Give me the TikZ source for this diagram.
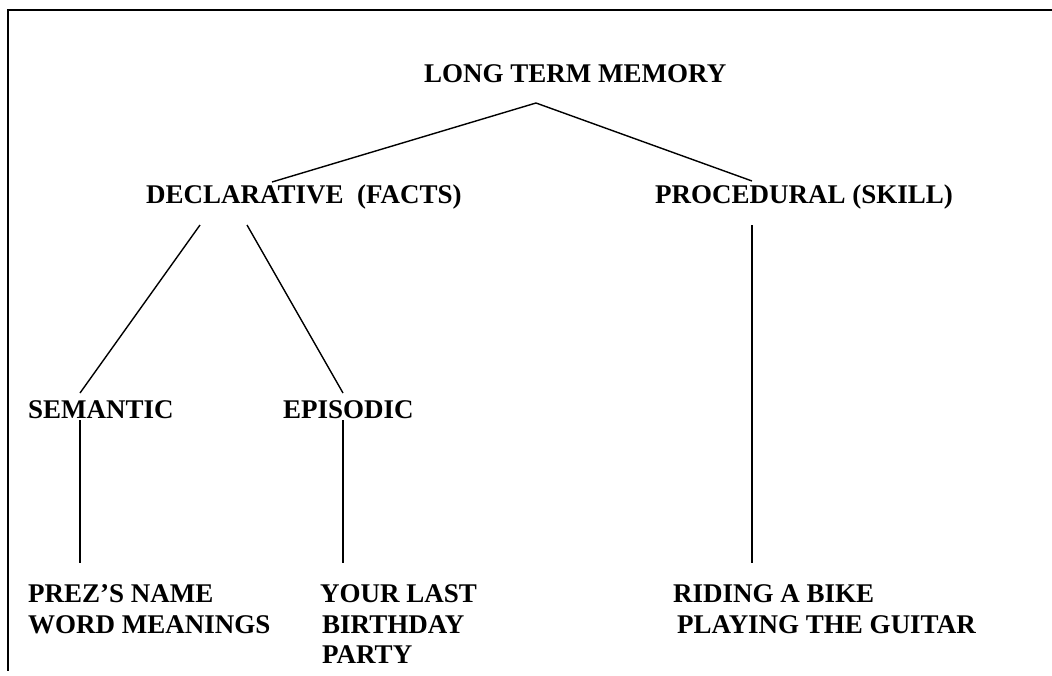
\documentclass[tikz,border=0pt]{standalone}
\usepackage{fontspec}
\setmainfont{Liberation Serif}
\begin{document}
\begin{tikzpicture}[x=1pt,y=-1pt,
  lbl/.style={anchor=base west,inner sep=0pt,font=\fontsize{27}{31}\selectfont\bfseries},
  conn/.style={line width=1.4pt},
  frame/.style={line width=2pt}]
\useasboundingbox (0,0) rectangle (1052,675);
% frame (top and left edges)
\coordinate (fTR) at (1052,10);
\coordinate (fTL) at (7.5,10);
\coordinate (fBL) at (7.5,671);
\draw[frame] (fTR) -- (fTL) -- (fBL);
% labels
\node[lbl] (ltm) at (424,82) {LONG TERM MEMORY};
\node[lbl] (decl) at (146,203) {DECLARATIVE\ \ (FACTS)};
\node[lbl] (proc) at (655,203) {PROCEDURAL (SKILL)};
\node[lbl] (sem) at (28,418) {SEMANTIC};
\node[lbl] (epi) at (283,418) {EPISODIC};
\node[lbl] (prez) at (28,602) {PREZ’S NAME};
\node[lbl] (word) at (28,633) {WORD MEANINGS};
\node[lbl] (your) at (320,602) {YOUR LAST};
\node[lbl] (birth) at (322,633) {BIRTHDAY};
\node[lbl] (party) at (322,663) {PARTY};
\node[lbl] (ride) at (673,602) {RIDING A BIKE};
\node[lbl] (play) at (677,633) {PLAYING THE GUITAR};
% connector ends
\coordinate (ltmB) at (536,103);
\coordinate (declT) at (272,182);
\coordinate (procT) at (752,181);
\coordinate (declBL) at (200,225);
\coordinate (declBR) at (247,225);
\coordinate (semT) at (80,393);
\coordinate (epiT) at (343,393);
\coordinate (semB) at (80,420);
\coordinate (epiB) at (343,420);
\coordinate (semE) at (80,563);
\coordinate (epiE) at (343,563);
\coordinate (procB) at (752,225);
\coordinate (procE) at (752,563);
% connectors
\draw[conn] (declT) -- (ltmB) -- (procT);
\draw[conn] (declBL) -- (semT);
\draw[conn] (declBR) -- (epiT);
\draw[conn] (semB) -- (semE);
\draw[conn] (epiB) -- (epiE);
\draw[conn] (procB) -- (procE);
\end{tikzpicture}
\end{document}
